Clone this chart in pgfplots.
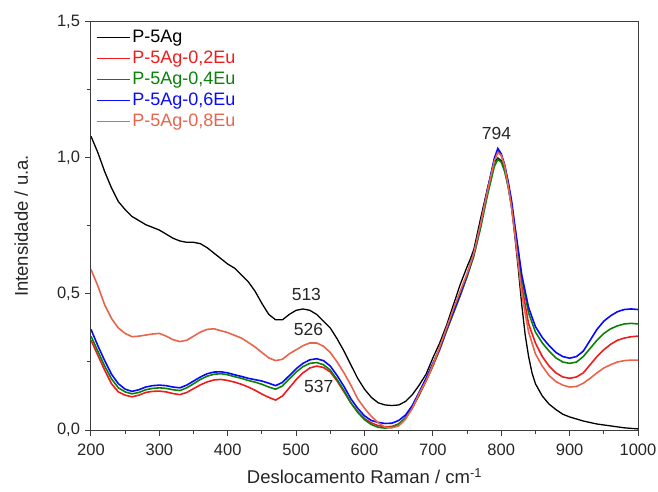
\documentclass[border=0pt]{standalone}
\usepackage{pgfplots}
\pgfplotsset{compat=1.18}
\usepackage{fontspec}
\setmainfont{Liberation Sans}
\definecolor{c1}{RGB}{0,0,0}
\definecolor{c2}{RGB}{238,28,28}
\definecolor{c3}{RGB}{10,130,10}
\definecolor{c4}{RGB}{10,10,250}
\definecolor{c5}{RGB}{232,100,75}
\definecolor{axc}{RGB}{60,60,60}
\begin{document}
\begin{tikzpicture}
\begin{axis}[
  name=ax,
  scale only axis,
  axis lines=box,
  width=547pt, height=408pt,
  xmin=200, xmax=1000, ymin=0, ymax=1.5,
  xtick={200,300,...,1000},
  minor xtick={250,350,...,950},
  ytick={0,0.5,1.0,1.5},
  minor ytick={0.25,0.75,1.25},
  tick align=outside,
  tick pos=left,
  major tick length=5.5pt, minor tick length=3.5pt,
  every tick/.style={axc, line width=1pt},
  axis line style={axc, line width=1pt},
  /pgf/number format/assume math mode=true,
  /pgf/number format/1000 sep={},
  yticklabel style={xshift=-2pt, /pgf/number format/.cd, fixed, fixed zerofill, precision=1, use comma},
  xticklabel style={yshift=-5pt},
  tick label style={font=\fontsize{16.5}{18}\selectfont, text=black!85},
  label style={font=\fontsize{18.5}{21}\selectfont, text=black!85},
  xlabel={Deslocamento Raman / cm\textsuperscript{-1}},
  ylabel={Intensidade / u.a.},
  xlabel style={yshift=-6pt},
  ylabel style={yshift=22pt},
  legend style={at={(0,1)}, anchor=north west, xshift=4pt, yshift=-5pt, draw=none, fill=none,
    font=\fontsize{18}{21}\selectfont, row sep=3pt, inner sep=1pt},
  legend cell align=left,
  legend image code/.code={\draw[#1, line width=1.1pt] (0,0) -- (33pt,0);},
  clip=true,
]
% P-5Ag
\addplot[c1, line width=1.3pt] coordinates {
(200,1.08)(205,1.05)(210,1.02)(220,0.95)(230,0.89)(240,0.84)(250,0.81)(260,0.785)(270,0.77)(280,0.755)(290,0.745)(300,0.735)(310,0.72)(320,0.705)(330,0.695)(340,0.69)(350,0.69)(360,0.685)(370,0.67)(380,0.65)(390,0.63)(400,0.61)(410,0.595)(420,0.57)(430,0.545)(440,0.51)(450,0.465)(460,0.425)(470,0.405)(480,0.405)(490,0.425)(500,0.44)(510,0.445)(520,0.44)(530,0.425)(540,0.40)(550,0.375)(560,0.335)(570,0.29)(580,0.24)(590,0.19)(600,0.15)(610,0.12)(620,0.10)(630,0.092)(640,0.09)(650,0.092)(660,0.105)(670,0.13)(680,0.165)(690,0.205)(700,0.265)(710,0.32)(720,0.385)(730,0.46)(740,0.535)(750,0.60)(755,0.63)(760,0.665)(770,0.78)(780,0.89)(790,0.985)(795,1.0)(800,0.99)(805,0.96)(810,0.90)(815,0.82)(820,0.71)(825,0.59)(830,0.46)(835,0.35)(840,0.27)(845,0.21)(850,0.17)(860,0.125)(870,0.095)(880,0.075)(890,0.058)(900,0.048)(920,0.033)(940,0.022)(960,0.015)(980,0.008)(1000,0.004)
};
\addlegendentry{P-5Ag}
% P-5Ag-0,2Eu
\addplot[c2, line width=1.6pt] coordinates {
(200,0.33)(210,0.275)(220,0.22)(230,0.17)(240,0.14)(250,0.128)(260,0.122)(270,0.128)(280,0.138)(290,0.142)(300,0.143)(310,0.14)(320,0.134)(330,0.13)(340,0.138)(350,0.152)(360,0.166)(370,0.177)(380,0.184)(390,0.186)(400,0.182)(410,0.176)(420,0.168)(430,0.158)(440,0.146)(450,0.132)(460,0.12)(470,0.11)(480,0.125)(490,0.155)(500,0.185)(510,0.21)(520,0.228)(530,0.235)(540,0.23)(550,0.213)(560,0.18)(570,0.14)(580,0.1)(590,0.068)(600,0.042)(610,0.026)(620,0.016)(630,0.012)(640,0.013)(650,0.022)(660,0.045)(670,0.082)(680,0.13)(690,0.18)(700,0.235)(710,0.295)(720,0.365)(730,0.43)(740,0.495)(750,0.565)(760,0.645)(770,0.755)(780,0.88)(790,0.995)(795,1.025)(800,1.01)(805,0.97)(810,0.905)(815,0.83)(820,0.73)(830,0.53)(840,0.39)(850,0.32)(860,0.27)(870,0.235)(880,0.21)(890,0.195)(900,0.19)(910,0.195)(920,0.21)(930,0.24)(940,0.27)(950,0.295)(960,0.315)(970,0.33)(980,0.338)(990,0.343)(1000,0.345)
};
\addlegendentry{\textcolor{c2}{P-5Ag-0,2Eu}}
% P-5Ag-0,4Eu
\addplot[c3, line width=1.6pt] coordinates {
(200,0.345)(210,0.29)(220,0.235)(230,0.188)(240,0.155)(250,0.14)(260,0.133)(270,0.138)(280,0.148)(290,0.153)(300,0.155)(310,0.153)(320,0.148)(330,0.145)(340,0.155)(350,0.17)(360,0.186)(370,0.198)(380,0.205)(390,0.207)(400,0.203)(410,0.196)(420,0.19)(430,0.182)(440,0.176)(450,0.168)(460,0.158)(470,0.15)(480,0.162)(490,0.188)(500,0.213)(510,0.233)(520,0.245)(530,0.248)(540,0.24)(550,0.22)(560,0.185)(570,0.145)(580,0.1)(590,0.065)(600,0.038)(610,0.02)(620,0.01)(630,0.007)(640,0.01)(650,0.022)(660,0.045)(670,0.082)(680,0.13)(690,0.182)(700,0.238)(710,0.298)(720,0.365)(730,0.43)(740,0.495)(750,0.565)(760,0.64)(770,0.745)(780,0.865)(790,0.97)(795,0.995)(800,0.985)(805,0.95)(810,0.895)(815,0.825)(820,0.74)(830,0.56)(840,0.43)(850,0.36)(860,0.32)(870,0.29)(880,0.265)(890,0.25)(900,0.245)(910,0.25)(920,0.27)(930,0.30)(940,0.33)(950,0.355)(960,0.372)(970,0.383)(980,0.39)(990,0.392)(1000,0.39)
};
\addlegendentry{\textcolor{c3}{P-5Ag-0,4Eu}}
% P-5Ag-0,6Eu
\addplot[c4, line width=1.6pt] coordinates {
(200,0.37)(210,0.31)(220,0.255)(230,0.205)(240,0.17)(250,0.15)(260,0.142)(270,0.148)(280,0.158)(290,0.163)(300,0.165)(310,0.163)(320,0.158)(330,0.155)(340,0.165)(350,0.18)(360,0.195)(370,0.207)(380,0.213)(390,0.214)(400,0.21)(410,0.203)(420,0.197)(430,0.19)(440,0.185)(450,0.18)(460,0.172)(470,0.163)(480,0.175)(490,0.20)(500,0.225)(510,0.245)(520,0.258)(530,0.262)(540,0.255)(550,0.235)(560,0.20)(570,0.16)(580,0.115)(590,0.08)(600,0.052)(610,0.035)(620,0.028)(630,0.024)(640,0.025)(650,0.035)(660,0.055)(670,0.09)(680,0.14)(690,0.19)(700,0.245)(710,0.30)(720,0.37)(730,0.435)(740,0.50)(750,0.57)(760,0.65)(770,0.76)(780,0.885)(790,1.0)(795,1.035)(800,1.015)(805,0.975)(810,0.915)(815,0.845)(820,0.75)(830,0.57)(840,0.45)(850,0.38)(860,0.34)(870,0.31)(880,0.285)(890,0.27)(900,0.264)(910,0.27)(920,0.29)(930,0.33)(940,0.37)(950,0.40)(960,0.42)(970,0.435)(980,0.443)(990,0.445)(1000,0.443)
};
\addlegendentry{\textcolor{c4}{P-5Ag-0,6Eu}}
% P-5Ag-0,8Eu
\addplot[c5, line width=1.6pt] coordinates {
(200,0.59)(210,0.53)(220,0.46)(230,0.41)(240,0.375)(250,0.355)(260,0.343)(270,0.345)(280,0.349)(290,0.353)(300,0.355)(310,0.345)(320,0.332)(330,0.325)(340,0.33)(350,0.345)(360,0.36)(370,0.37)(380,0.372)(390,0.365)(400,0.358)(410,0.348)(420,0.338)(430,0.322)(440,0.305)(450,0.285)(460,0.265)(470,0.255)(480,0.26)(490,0.28)(500,0.295)(510,0.31)(520,0.32)(530,0.32)(540,0.308)(550,0.285)(560,0.25)(570,0.21)(580,0.165)(590,0.115)(600,0.08)(610,0.05)(620,0.027)(630,0.01)(640,0.008)(650,0.015)(660,0.04)(670,0.08)(680,0.135)(690,0.18)(700,0.24)(710,0.305)(720,0.375)(730,0.445)(740,0.51)(750,0.575)(760,0.65)(770,0.76)(780,0.88)(790,0.99)(795,1.02)(800,1.01)(805,0.97)(810,0.9)(815,0.82)(820,0.72)(830,0.50)(840,0.36)(850,0.28)(860,0.235)(870,0.20)(880,0.178)(890,0.165)(900,0.158)(910,0.16)(920,0.172)(930,0.19)(940,0.21)(950,0.228)(960,0.24)(970,0.25)(980,0.255)(990,0.257)(1000,0.257)
};
\addlegendentry{\textcolor{c5}{P-5Ag-0,8Eu}}
\node[font=\fontsize{17.5}{20}\selectfont, text=black!85] at (axis cs:515,0.50) {513};
\node[font=\fontsize{17.5}{20}\selectfont, text=black!85] at (axis cs:518,0.37) {526};
\node[font=\fontsize{17.5}{20}\selectfont, text=black!85] at (axis cs:533,0.16) {537};
\node[font=\fontsize{17.5}{20}\selectfont, text=black!85] at (axis cs:793,1.09) {794};
\end{axis}
\pgfresetboundingbox
\path ([xshift=-91pt,yshift=-62pt]ax.south west) rectangle ([xshift=20pt,yshift=22pt]ax.north east);
\end{tikzpicture}
\end{document}
